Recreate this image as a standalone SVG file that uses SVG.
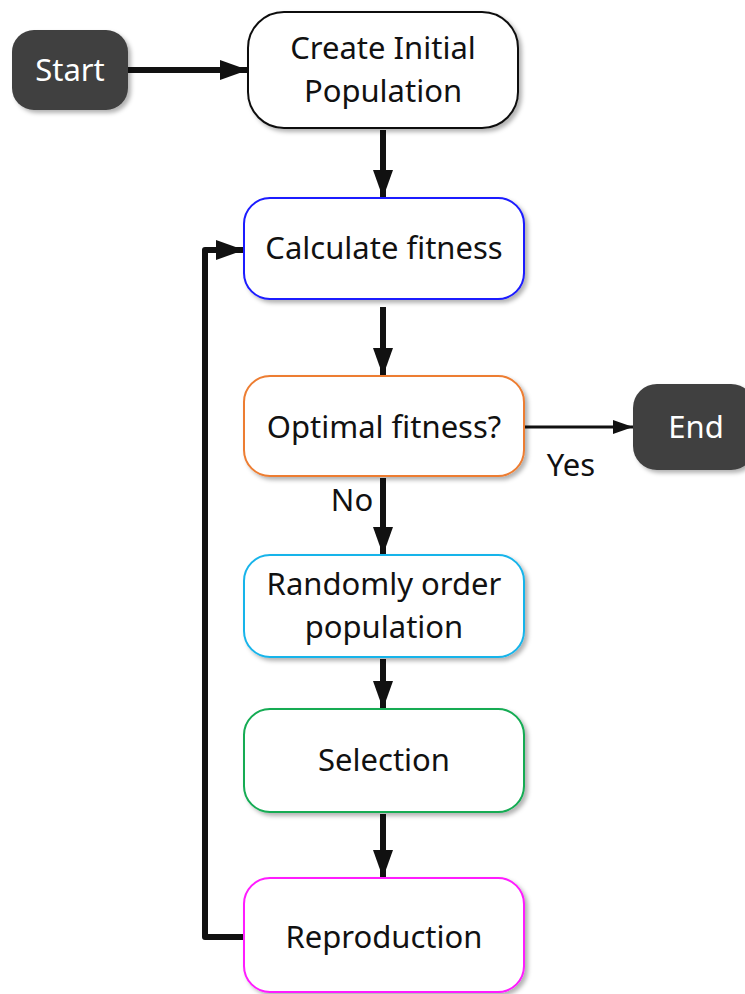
<svg xmlns="http://www.w3.org/2000/svg" width="745" height="994" viewBox="0 0 745 994">
  <defs>
    <filter id="shadow" x="-10%" y="-10%" width="125%" height="130%">
      <feDropShadow dx="3" dy="3" stdDeviation="2" flood-color="#000" flood-opacity="0.3"/>
    </filter>
    <marker id="head" markerUnits="userSpaceOnUse" markerWidth="28" markerHeight="22" refX="28" refY="11" orient="auto">
      <path d="M0,1 L28,11 L0,21 Z" fill="#111"/>
    </marker>
    <marker id="headThin" markerUnits="userSpaceOnUse" markerWidth="20" markerHeight="16" refX="20" refY="8" orient="auto">
      <path d="M0,1 L20,8 L0,15 Z" fill="#111"/>
    </marker>
  </defs>
  <style>
    .box { fill: #fff; stroke-width: 2; filter: url(#shadow); }
    .term { fill: #404040; stroke: none; filter: url(#shadow); }
    .lbl { font-family: "Noto Sans", "Open Sans", sans-serif; font-size: 31px; fill: #111; text-anchor: middle; }
    .tlbl { font-family: "Noto Sans", "Open Sans", sans-serif; font-size: 31px; fill: #fff; text-anchor: middle; }
    .edge { fill: none; stroke: #111; stroke-width: 6; stroke-linejoin: round; }
    .thin { fill: none; stroke: #111; stroke-width: 3; }
  </style>

  <g id="connectors">
    <line class="edge" x1="128" y1="70" x2="248" y2="70" marker-end="url(#head)"/>
    <line class="edge" x1="383" y1="130" x2="383" y2="198" marker-end="url(#head)"/>
    <line class="edge" x1="383" y1="307" x2="383" y2="376" marker-end="url(#head)"/>
    <line class="thin" x1="524" y1="427" x2="633" y2="427" marker-end="url(#headThin)"/>
    <line class="edge" x1="383" y1="478" x2="383" y2="555" marker-end="url(#head)"/>
    <line class="edge" x1="383" y1="659" x2="383" y2="709" marker-end="url(#head)"/>
    <line class="edge" x1="383" y1="814" x2="383" y2="878" marker-end="url(#head)"/>
    <polyline class="edge" points="244,937 205,937 205,250 244,250" marker-end="url(#head)"/>
    <text class="lbl" x="571" y="476">Yes</text>
    <text class="lbl" x="352" y="511">No</text>
  </g>

  <g id="start">
    <rect class="term" x="12" y="30" width="116" height="80" rx="22"/>
    <text class="tlbl" x="70" y="81">Start</text>
  </g>

  <g id="create">
    <rect class="box" x="248" y="12" width="270" height="116" rx="36" stroke="#111"/>
    <text class="lbl" x="383" y="59">Create Initial</text>
    <text class="lbl" x="383" y="102">Population</text>
  </g>

  <g id="fitness">
    <rect class="box" x="244" y="198" width="280" height="101" rx="26" stroke="#1a1aff"/>
    <text class="lbl" x="384" y="259">Calculate fitness</text>
  </g>

  <g id="optimal">
    <rect class="box" x="244" y="376" width="280" height="100" rx="26" stroke="#ed7d31"/>
    <text class="lbl" x="384" y="438">Optimal fitness?</text>
  </g>

  <g id="end">
    <rect class="term" x="633" y="384" width="122" height="86" rx="24"/>
    <text class="tlbl" x="696" y="438">End</text>
  </g>

  <g id="randomize">
    <rect class="box" x="244" y="555" width="280" height="102" rx="26" stroke="#19b4ea"/>
    <text class="lbl" x="384" y="595">Randomly order</text>
    <text class="lbl" x="384" y="638">population</text>
  </g>

  <g id="selection">
    <rect class="box" x="244" y="709" width="280" height="103" rx="26" stroke="#12ab52"/>
    <text class="lbl" x="384" y="771">Selection</text>
  </g>

  <g id="reproduction">
    <rect class="box" x="244" y="878" width="280" height="114" rx="26" stroke="#ff1aff"/>
    <text class="lbl" x="384" y="948">Reproduction</text>
  </g>
</svg>
